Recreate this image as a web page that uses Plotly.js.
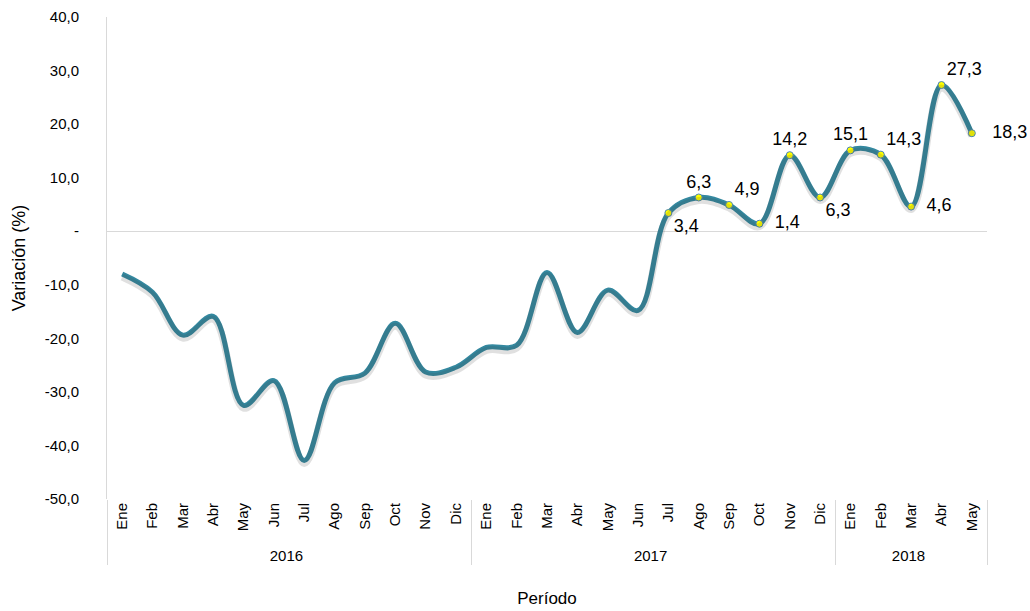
<!DOCTYPE html>
<html><head><meta charset="utf-8">
<script src="https://cdn.plot.ly/plotly-3.0.1.min.js"></script>
<style>html,body{margin:0;padding:0;background:#fff}</style>
</head><body>
<div id="chart" style="width:1030px;height:611px"></div>
<script>
const years = ["2016","2016","2016","2016","2016","2016","2016","2016","2016","2016","2016","2016",
  "2017","2017","2017","2017","2017","2017","2017","2017","2017","2017","2017","2017",
  "2018","2018","2018","2018","2018"];
const months = ["Ene","Feb","Mar","Abr","May","Jun","Jul","Ago","Sep","Oct","Nov","Dic",
  "Ene","Feb","Mar","Abr","May","Jun","Jul","Ago","Sep","Oct","Nov","Dic",
  "Ene","Feb","Mar","Abr","May"];
const variacion = [-8.0,-11.4,-19.4,-15.9,-32.5,-27.9,-42.8,-28.3,-26.5,-17.2,-26.3,-25.4,
  -21.7,-21.3,-7.7,-18.9,-11.0,-14.8,3.4,6.3,4.9,1.4,14.2,6.3,
  15.1,14.3,4.6,27.3,18.3];
const labelStart = 18;
const labelPositions = ["bottom right","top center","top right","middle right","top center","bottom right",
  "top center","top right","middle right","top right","middle right"];
const labelPads = ["","","","  ","","","","","  ","","   "];
const yTickVals = [-50,-40,-30,-20,-10,0,10,20,30,40];
const yTickText = ["-50,0","-40,0","-30,0","-20,0","-10,0","-","10,0","20,0","30,0","40,0"];

const fmt = v => v.toFixed(1).replace('.', ',');
const lineColor = '#34889f';
const FONT = 'Liberation Sans, Arial, sans-serif';
const labelText = variacion.slice(labelStart).map((v, i) => labelPads[i] + fmt(v));

const traces = [
  {
    x: [years, months], y: variacion, type: 'scatter', mode: 'lines', yaxis: 'y2',
    line: {color: 'rgba(60,60,60,0.16)', width: 7, shape: 'spline', smoothing: 1},
    hoverinfo: 'skip', showlegend: false
  },
  {
    x: [years, months], y: variacion, type: 'scatter', mode: 'lines',
    line: {color: lineColor, width: 5, shape: 'spline', smoothing: 1},
    hoverinfo: 'skip', showlegend: false
  },
  {
    x: [years.slice(labelStart), months.slice(labelStart)], y: variacion.slice(labelStart),
    type: 'scatter', mode: 'markers+text', cliponaxis: false,
    marker: {color: '#ffff00', size: 7, line: {color: '#4a86b8', width: 1}},
    text: labelText,
    textposition: labelPositions,
    textfont: {family: FONT, size: 18, color: '#000'},
    showlegend: false
  }
];

const layout = {
  width: 1030, height: 611,
  margin: {l: 107, r: 43, t: 17, b: 112},
  paper_bgcolor: '#fff', plot_bgcolor: '#fff',
  font: {family: FONT, size: 15, color: '#000'},
  xaxis: {
    type: 'multicategory', tickangle: -90, range: [-0.5, 28.5],
    showgrid: false, zeroline: false,
    showline: false, ticks: '',
    dividercolor: '#d9d9d9', dividerwidth: 1, showdividers: true,
    tickfont: {size: 15},
    title: {text: 'Período', font: {size: 17}, standoff: 28}
  },
  yaxis: {
    range: [-50, 40], tickvals: yTickVals, ticktext: yTickText,
    showgrid: false, zeroline: true, zerolinecolor: '#d9d9d9', zerolinewidth: 1,
    showline: true, linecolor: '#d9d9d9', linewidth: 1, ticks: '',
    ticklabelstandoff: 24,
    tickfont: {size: 15},
    title: {text: 'Variación (%)', font: {size: 18}, standoff: 14}
  },
  yaxis2: {
    range: [-49.45, 40.55], overlaying: 'y', visible: false, fixedrange: true
  }
};
Plotly.newPlot('chart', traces, layout, {displayModeBar: false, staticPlot: true});
</script>
</body></html>
